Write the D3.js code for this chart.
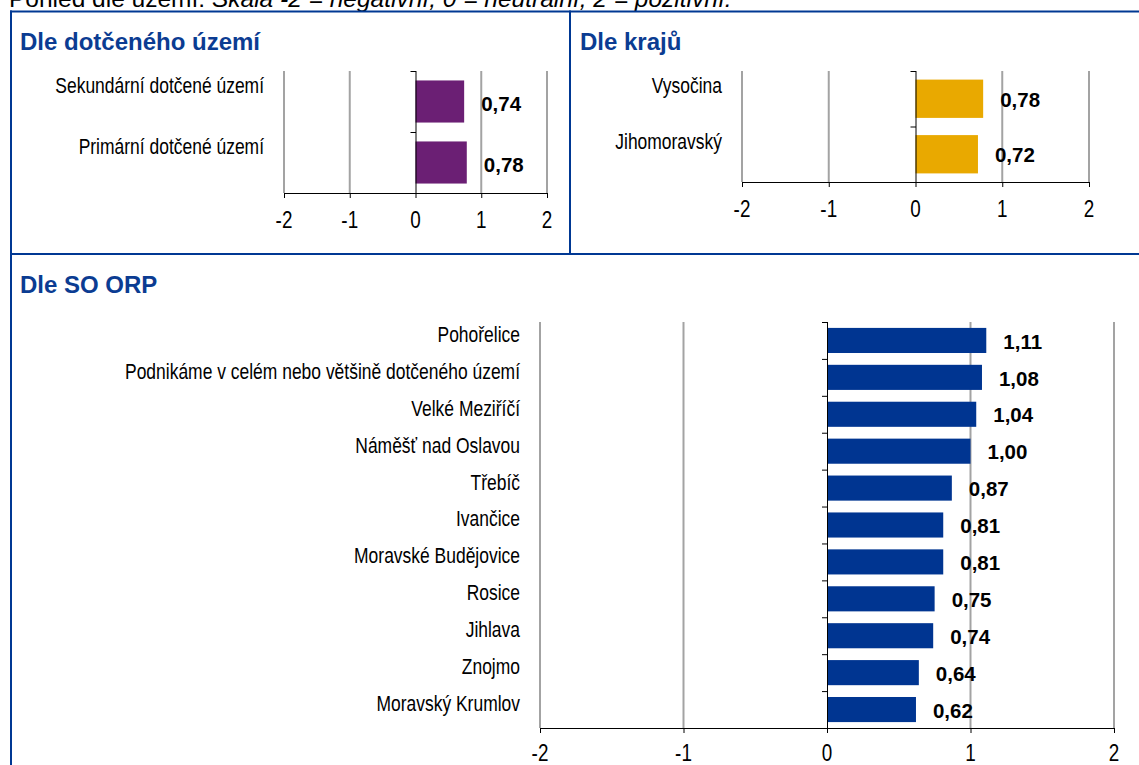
<!DOCTYPE html>
<html><head><meta charset="utf-8">
<script src="https://cdn.jsdelivr.net/npm/d3@7"></script>
<style>html,body{margin:0;padding:0;background:#fff;overflow:hidden}</style>
</head><body>
<svg id="chart" width="1139" height="765"></svg>
<script>
// ---------------- data ----------------
const headerNormal = "Pohled dle území: ";
const headerItalic = "Škála -2 = negativní; 0 = neutrální; 2 = pozitivní.";
const panelTitles = ["Dle dotčeného území", "Dle krajů", "Dle SO ORP"];
const terrCategories = ["Sekundární dotčené území", "Primární dotčené území"];
const terrValues = [0.74, 0.78];
const regionCategories = ["Vysočina", "Jihomoravský"];
const regionValues = [0.78, 0.72];
const orpCategories = ["Pohořelice", "Podnikáme v celém nebo většině dotčeného území", "Velké Meziříčí",
  "Náměšť nad Oslavou", "Třebíč", "Ivančice", "Moravské Budějovice", "Rosice", "Jihlava", "Znojmo", "Moravský Krumlov"];
const orpValues = [1.11, 1.08, 1.04, 1.00, 0.87, 0.81, 0.81, 0.75, 0.74, 0.64, 0.62];
const axisTicks = [-2, -1, 0, 1, 2];

// ---------------- font handling ----------------
function fontAvailable(name) {
  const c = document.createElement("canvas").getContext("2d");
  const s = "Podnikáme v celém nebo většině 0123";
  c.font = "40px monospace"; const a = c.measureText(s).width;
  c.font = `40px "${name}", monospace`; const b = c.measureText(s).width;
  return Math.abs(a - b) > 0.5;
}
const hasNarrow = fontAvailable("Liberation Sans Narrow");
const NARROW = hasNarrow ? "'Liberation Sans Narrow', 'Arial Narrow', sans-serif" : "'Liberation Sans', Arial, sans-serif";
const NSX = hasNarrow ? 1 : 0.82;
const SANS = "'Liberation Sans', Arial, sans-serif";

const svg = d3.select("#chart");
svg.append("rect").attr("width", 1139).attr("height", 765).attr("fill", "#fff");

function narrowText(parent, x, y, str, opts = {}) {
  const g = parent.append("g").attr("transform", `translate(${x},${y}) scale(${NSX},1)`);
  return g.append("text")
    .attr("x", 0).attr("y", 0)
    .attr("dy", opts.dy || "0.35em")
    .attr("text-anchor", opts.anchor || "start")
    .attr("font-family", NARROW)
    .attr("font-size", opts.size || 21)
    .attr("font-weight", opts.weight || "normal")
    .attr("fill", opts.fill || "#000")
    .text(str);
}

// ---------------- header (clipped at the top, as in the source) ----------------
const hdr = svg.append("text").attr("x", 9).attr("y", 6.5)
  .attr("font-family", SANS).attr("font-size", 24.5).attr("fill", "#000");
hdr.append("tspan").text(headerNormal);
hdr.append("tspan").attr("font-style", "italic").text(headerItalic);

// ---------------- frame ----------------
const FRAME = "#003893";
const frame = svg.append("g").attr("stroke", FRAME).attr("stroke-width", 2);
frame.append("line").attr("x1", 10).attr("x2", 1139).attr("y1", 11.5).attr("y2", 11.5);
frame.append("line").attr("x1", 11).attr("x2", 11).attr("y1", 10.5).attr("y2", 765);
frame.append("line").attr("x1", 570).attr("x2", 570).attr("y1", 10.5).attr("y2", 254);
frame.append("line").attr("x1", 10).attr("x2", 1139).attr("y1", 254).attr("y2", 254);

// ---------------- titles ----------------
const TITLE = "#0b3c92";
[[20, 50], [580, 50], [20, 293]].forEach((p, i) => {
  svg.append("text").attr("x", p[0]).attr("y", p[1])
    .attr("font-family", SANS).attr("font-size", 24).attr("font-weight", "bold")
    .attr("fill", TITLE).text(panelTitles[i]);
});

// ---------------- panels ----------------
const fmt = d => d3.format(".2f")(d).replace(".", ",");

function panel(cfg) {
  const x = d3.scaleLinear().domain([-2, 2]).range([cfg.x0, cfg.x1]);
  const y = d3.scaleBand().domain(cfg.cats).range([cfg.top, cfg.bottom])
    .paddingInner(cfg.pad).paddingOuter(cfg.pad / 2);
  const g = svg.append("g");

  // gridlines
  g.append("g").selectAll("line").data(axisTicks.filter(t => t !== 0)).join("line")
    .attr("x1", d => x(d)).attr("x2", d => x(d))
    .attr("y1", cfg.top).attr("y2", cfg.bottom)
    .attr("stroke", "#a3a3a3").attr("stroke-width", 2);

  // bars
  const data = cfg.cats.map((c, i) => ({ c, v: cfg.vals[i] }));
  g.append("g").selectAll("rect").data(data).join("rect")
    .attr("x", d => x(Math.min(0, d.v)))
    .attr("y", d => y(d.c))
    .attr("width", d => Math.abs(x(d.v) - x(0)))
    .attr("height", y.bandwidth())
    .attr("fill", cfg.color);

  // x axis
  const xa = g.append("g").attr("transform", `translate(0,${cfg.bottom})`)
    .call(d3.axisBottom(x).tickValues(axisTicks).tickSize(5).tickSizeOuter(0).tickFormat(""));
  xa.select(".domain").attr("stroke", "#000").attr("stroke-width", 1);
  xa.selectAll(".tick line").attr("stroke", "#000");
  axisTicks.forEach(t => narrowText(g, x(t), cfg.bottom + cfg.tickDy, String(t), { anchor: "middle", size: 23 }));

  // y axis at zero with category-division ticks
  const y0 = g.append("g").attr("stroke", "#000").attr("stroke-width", 1);
  y0.append("line").attr("x1", x(0) + 0.5).attr("x2", x(0) + 0.5).attr("y1", cfg.top).attr("y2", cfg.bottom);
  const n = cfg.cats.length;
  y0.selectAll(".yt").data(d3.range(n + 1)).join("line")
    .attr("x1", x(0) - 5).attr("x2", x(0) + 0.5)
    .attr("y1", i => cfg.top + i * (cfg.bottom - cfg.top) / n + 0.5)
    .attr("y2", i => cfg.top + i * (cfg.bottom - cfg.top) / n + 0.5);

  // category labels
  data.forEach(d => narrowText(g, cfg.labelX, y(d.c) + y.bandwidth() / 2 + cfg.labelDy, d.c, { anchor: "end", size: 21.3 }));
  // value labels
  g.append("g").selectAll("text").data(data).join("text")
    .attr("x", d => x(d.v) + cfg.valDx)
    .attr("y", d => y(d.c) + y.bandwidth() / 2 + cfg.valDy)
    .attr("dy", "0.35em")
    .attr("font-family", SANS).attr("font-size", 20.5).attr("font-weight", "bold").attr("fill", "#000")
    .text(d => fmt(d.v));
}

panel({ cats: terrCategories, vals: terrValues, color: "#6b1f74",
  x0: 284, x1: 547, top: 71, bottom: 193, pad: 0.31,
  labelX: 264, labelDy: -16, valDx: 17, valDy: 2, tickDy: 27 });
panel({ cats: regionCategories, vals: regionValues, color: "#e9a900",
  x0: 742, x1: 1089, top: 71, bottom: 182, pad: 0.31,
  labelX: 722, labelDy: -13, valDx: 17, valDy: 1, tickDy: 27 });
panel({ cats: orpCategories, vals: orpValues, color: "#003591",
  x0: 540, x1: 1114, top: 322, bottom: 728, pad: 0.32,
  labelX: 520, labelDy: -6, valDx: 17, valDy: 1, tickDy: 25 });
</script>
</body></html>
